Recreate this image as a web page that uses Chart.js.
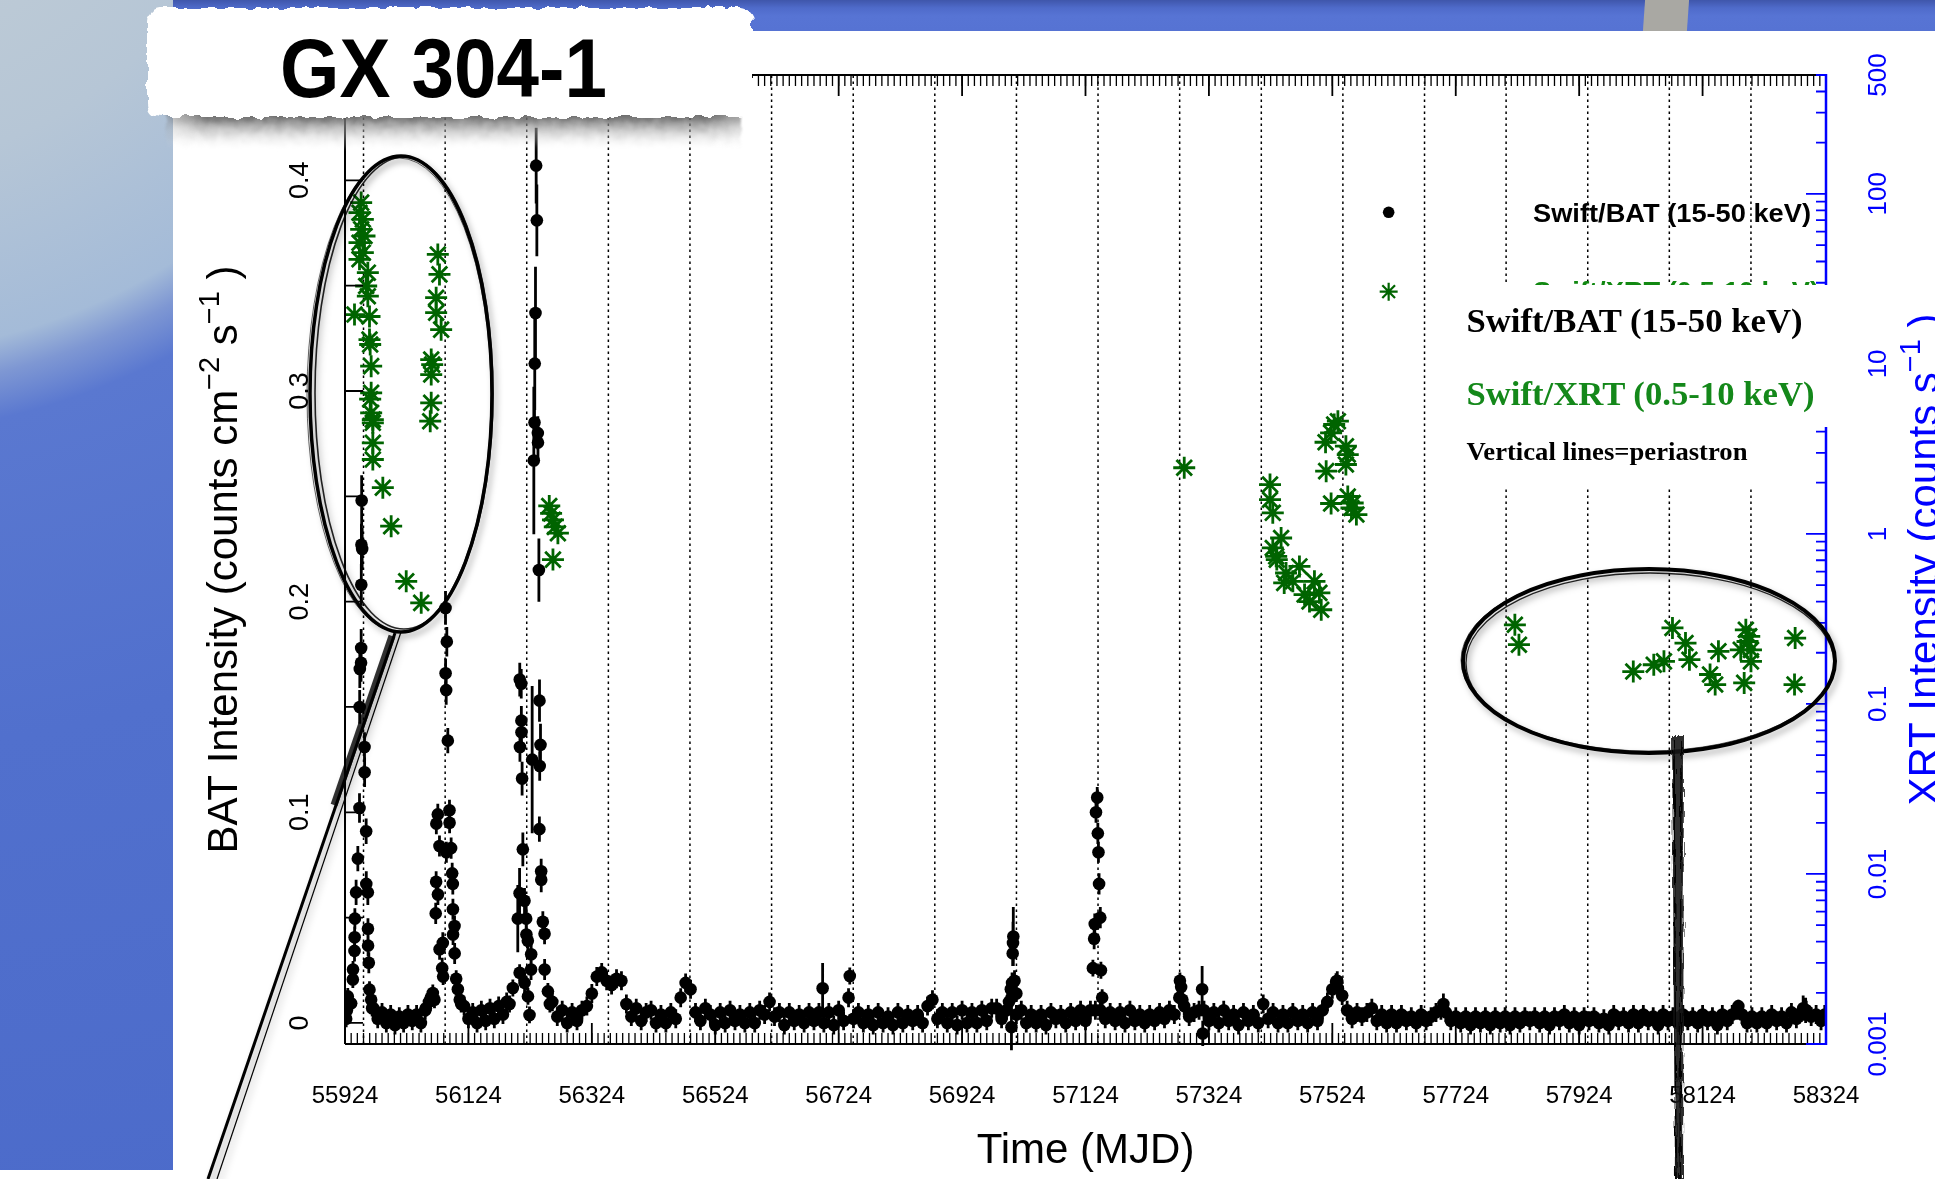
<!DOCTYPE html>
<html>
<head>
<meta charset="utf-8">
<title>GX 304-1</title>
<script src="https://cdn.jsdelivr.net/npm/chart.js@4.4.1/dist/chart.umd.min.js"></script>
<style>
  html, body { margin:0; padding:0; width:1935px; height:1179px; overflow:hidden; background:#fff; }
  #leftPanel { position:absolute; left:0; top:0; width:173px; height:1170px; z-index:0;
    background: radial-gradient(circle at -150px -250px, #c8d1d6 0px, #b6c6d6 420px, #a4bbd8 605px, #7e97d3 640px, #5a78d0 685px, #5170cd 1000px, #4c6bca 1500px); }
  #topBand { position:absolute; left:173px; top:0; width:1762px; height:31px; z-index:0;
    background: linear-gradient(to bottom, #3f56ab 0px, #4f6bca 8px, #5774d4 16px, #5673d3 31px); }
  #stripe { position:absolute; left:1644px; top:0; width:44px; height:31px; z-index:0; background:#a9a8a3; transform: skewX(-4deg); }
  #chartBox { position:absolute; left:0; top:0; width:1935px; height:1179px; z-index:1; }
  #overlay { position:absolute; left:0; top:0; z-index:2; pointer-events:none; }
</style>
</head>
<body>
<div id="leftPanel"></div>
<div id="topBand"></div>
<div id="stripe"></div>
<div id="chartBox"><canvas id="c" width="1935" height="1179" style="width:1935px;height:1179px"></canvas></div>

<svg id="overlay" width="1935" height="1179" viewBox="0 0 1935 1179" xmlns="http://www.w3.org/2000/svg">
  <defs>
    <filter id="rough" x="-3%" y="-10%" width="106%" height="120%">
      <feTurbulence type="fractalNoise" baseFrequency="0.09" numOctaves="2" seed="7" result="noise"/>
      <feDisplacementMap in="SourceGraphic" in2="noise" scale="8" xChannelSelector="R" yChannelSelector="G"/>
    </filter>
    <filter id="softRough" x="-5%" y="-30%" width="110%" height="160%">
      <feTurbulence type="fractalNoise" baseFrequency="0.12" numOctaves="2" seed="3" result="noise"/>
      <feDisplacementMap in="SourceGraphic" in2="noise" scale="6" xChannelSelector="R" yChannelSelector="G" result="d"/>
      <feGaussianBlur in="d" stdDeviation="1.2"/>
    </filter>
    <linearGradient id="shadowGrad" x1="0" y1="0" x2="0" y2="1">
      <stop offset="0" stop-color="#3c3c3c" stop-opacity="1"/>
      <stop offset="0.3" stop-color="#6a6a6a" stop-opacity="0.85"/>
      <stop offset="0.65" stop-color="#b4b4b4" stop-opacity="0.45"/>
      <stop offset="1" stop-color="#ffffff" stop-opacity="0"/>
    </linearGradient>
    <linearGradient id="shadowFade" x1="0" y1="0" x2="1" y2="0">
      <stop offset="0" stop-color="#fff" stop-opacity="0.25"/>
      <stop offset="0.08" stop-color="#fff" stop-opacity="1"/>
      <stop offset="0.93" stop-color="#fff" stop-opacity="1"/>
      <stop offset="1" stop-color="#fff" stop-opacity="0.5"/>
    </linearGradient>
    <mask id="shadowMask"><rect x="160" y="100" width="590" height="60" fill="url(#shadowFade)"/></mask>
    <filter id="drop" x="-20%" y="-10%" width="140%" height="130%">
      <feDropShadow dx="3" dy="4" stdDeviation="3" flood-color="#000" flood-opacity="0.3"/>
    </filter>
    <filter id="scribble" x="-50%" y="-5%" width="200%" height="110%">
      <feTurbulence type="fractalNoise" baseFrequency="0.6 0.05" numOctaves="2" seed="11" result="n"/>
      <feDisplacementMap in="SourceGraphic" in2="n" scale="5" xChannelSelector="R" yChannelSelector="G"/>
    </filter>
  </defs>
  <!-- slide title label -->
  <g mask="url(#shadowMask)">
    <rect x="166" y="106" width="575" height="44" fill="url(#shadowGrad)" filter="url(#softRough)"/>
  </g>
  <rect x="147" y="8" width="606" height="109" rx="14" fill="#ffffff" filter="url(#rough)"/>
  <text x="443.5" y="96.5" text-anchor="middle" font-family="Liberation Sans, Arial, sans-serif" font-weight="bold" font-size="84" textLength="327" lengthAdjust="spacingAndGlyphs" fill="#000">GX 304-1</text>
  <!-- pasted legend box -->
  <rect x="1454" y="285" width="374" height="142" fill="#ffffff"/>
  <rect x="1454" y="426" width="362" height="62" fill="#ffffff"/>
  <text x="1466.5" y="331.7" font-family="Liberation Serif, Times New Roman, serif" font-weight="bold" font-size="34.5" textLength="336" lengthAdjust="spacingAndGlyphs" fill="#000">Swift/BAT (15-50 keV)</text>
  <text x="1466.5" y="405" font-family="Liberation Serif, Times New Roman, serif" font-weight="bold" font-size="34.5" textLength="348" lengthAdjust="spacingAndGlyphs" fill="#14881a">Swift/XRT (0.5-10 keV)</text>
  <text x="1466.5" y="460" font-family="Liberation Serif, Times New Roman, serif" font-weight="bold" font-size="26" textLength="281" lengthAdjust="spacingAndGlyphs" fill="#000">Vertical lines=periastron</text>
  <!-- magnifier call-outs -->
  <g fill="none" stroke="#000" filter="url(#drop)">
    <ellipse cx="401" cy="394" rx="91" ry="238" stroke-width="3.5"/>
    <ellipse cx="404" cy="393" rx="89" ry="236" stroke-width="1.6" opacity="0.85"/>
    <ellipse cx="399" cy="395" rx="92" ry="237" stroke-width="1" opacity="0.6"/>
    <path d="M395 633 L208 1179" stroke-width="3"/>
    <path d="M392 636 L334 805" stroke-width="7" opacity="0.8"/>
    <path d="M401 632 L217 1179" stroke-width="1.2"/>
    <ellipse cx="1649" cy="661" rx="186" ry="92" stroke-width="4"/>
    <ellipse cx="1650" cy="663" rx="184" ry="90" stroke-width="1.3" opacity="0.85"/>
    <ellipse cx="1648" cy="660" rx="187" ry="91" stroke-width="1" opacity="0.6"/>
  </g>
  <g filter="url(#scribble)">
    <path d="M1672 736 L1684 736 L1683 1179 L1675 1179 Z" fill="#1a1a1a" opacity="0.9"/>
    <path d="M1674 740 L1676 1179" stroke="#000" stroke-width="1.5" fill="none"/>
    <path d="M1681 740 L1680 1179" stroke="#000" stroke-width="1.5" fill="none"/>
  </g>
</svg>

<script>
// ------------------------------------------------------------------
// Axis definitions
const xTickValues = [55924, 56124, 56324, 56524, 56724, 56924, 57124, 57324, 57524, 57724, 57924, 58124, 58324];
const xTickLabels = ['55924', '56124', '56324', '56524', '56724', '56924', '57124', '57324', '57524', '57724', '57924', '58124', '58324'];
const batTickValues = [0, 0.1, 0.2, 0.3, 0.4];
const batTickLabels = ['0', '0.1', '0.2', '0.3', '0.4'];
const xrtTickValues = [0.001, 0.01, 0.1, 1, 10, 100, 500];
const xrtTickLabels = ['0.001', '0.01', '0.1', '1', '10', '100', '500'];

// Periastron passages (MJD)
const periastronMJD = [55954.0, 56086.3, 56218.5, 56350.8, 56483.0, 56615.3, 56747.6, 56879.8, 57012.1,
  57144.3, 57276.6, 57408.9, 57541.1, 57673.4, 57805.6, 57937.9, 58070.1, 58202.4];

// Swift/BAT quiescent light curve (counts cm^-2 s^-1)
const quietMJD = [
  55970, 55977, 55984, 55991, 55998, 56005, 56012, 56019, 56026, 56033,
  56040, 56047, 56054, 56117, 56124, 56131, 56138, 56145, 56152, 56159,
  56166, 56173, 56180, 56186,
  56260, 56268, 56276, 56284, 56292, 56300, 56308, 56316, 56324, 56332,
  56340, 56348, 56356, 56364, 56372, 56380, 56388, 56396, 56404, 56412,
  56420, 56428, 56436, 56444, 56452, 56460, 56468, 56476, 56484, 56492,
  56500, 56508, 56516, 56524, 56532, 56540, 56548, 56556, 56564, 56572,
  56580, 56588, 56596, 56604, 56612, 56620, 56628, 56636, 56644, 56652,
  56660, 56668, 56676, 56684, 56692, 56700, 56708, 56716, 56724, 56732,
  56740, 56748, 56756, 56764, 56772, 56780, 56788, 56796, 56804, 56812,
  56820, 56828, 56836, 56844, 56852, 56860, 56868, 56876, 56884, 56892,
  56900, 56908, 56916, 56924, 56932, 56940, 56948, 56956, 56964, 56972,
  56980, 56988, 56996, 57004, 57012, 57020, 57028, 57036, 57044, 57052,
  57060, 57068, 57076, 57084, 57092, 57100, 57108, 57116, 57124, 57132,
  57140, 57148, 57156, 57164, 57172, 57180, 57188, 57196, 57204, 57212,
  57220, 57228, 57236, 57244, 57252, 57260, 57268, 57276, 57284, 57292,
  57300, 57308, 57316, 57324, 57332, 57340, 57348, 57356, 57364, 57372,
  57380, 57388, 57396, 57404, 57412, 57420, 57428, 57436, 57444, 57452,
  57460, 57468, 57476, 57484, 57492, 57500, 57508, 57516, 57524, 57532,
  57540, 57548, 57556, 57564, 57572, 57580, 57588, 57596, 57604, 57612,
  57620, 57628, 57636, 57644, 57652, 57660, 57668, 57676, 57684, 57692,
  57700, 57708, 57716, 57724, 57732, 57740, 57748, 57756, 57764, 57772,
  57780, 57788, 57796, 57804, 57812, 57820, 57828, 57836, 57844, 57852,
  57860, 57868, 57876, 57884, 57892, 57900, 57908, 57916, 57924, 57932,
  57940, 57948, 57956, 57964, 57972, 57980, 57988, 57996, 58004, 58012,
  58020, 58028, 58036, 58044, 58052, 58060, 58068, 58076, 58084, 58092,
  58100, 58108, 58116, 58124, 58132, 58140, 58148, 58156, 58164, 58172,
  58180, 58188, 58196, 58204, 58212, 58220, 58228, 58236, 58244, 58252,
  58260, 58268, 58276, 58284, 58292, 58300, 58308, 58316, 58322];
const quietRate = [
  0.007, 0.002, 0.005, 0.000, 0.004, -0.001, 0.003, 0.000, 0.004, 0.001,
  0.004, 0.000, 0.006, 0.008, 0.002, 0.005, 0.000, 0.006, 0.001, 0.007,
  0.002, 0.008, 0.004, 0.010,
  0.010, 0.003, 0.006, 0.000, 0.005, 0.001, 0.006, 0.008, 0.014, 0.022,
  0.024, 0.020, 0.018, 0.021, 0.020, 0.009, 0.003, 0.007, 0.001, 0.005,
  0.006, 0.000, 0.004, 0.000, 0.005, 0.002, 0.012, 0.019, 0.016, 0.005,
  0.001, 0.007, 0.004, -0.001, 0.005, 0.000, 0.006, 0.001, 0.004, 0.000,
  0.005, 0.000, 0.006, 0.004, 0.010, 0.003, 0.005, -0.001, 0.005, 0.001,
  0.004, 0.000, 0.005, 0.001, 0.005, 0.000, 0.005, -0.001, 0.006, 0.001,
  0.012, 0.002, 0.005, 0.000, 0.004, -0.001, 0.005, 0.000, 0.003, -0.001,
  0.005, 0.000, 0.004, 0.001, 0.004, 0.000, 0.008, 0.011, 0.002, 0.005,
  0.000, 0.005, -0.001, 0.006, 0.000, 0.005, 0.000, 0.006, 0.001, 0.007,
  0.007, 0.002, 0.006, 0.012, 0.004, 0.006, 0.000, 0.004, 0.000, 0.004,
  -0.001, 0.005, 0.002, 0.004, 0.000, 0.005, 0.001, 0.006, 0.001, 0.006,
  0.006, 0.006, 0.002, 0.005, 0.001, 0.005, 0.000, 0.006, 0.001, 0.004,
  0.000, 0.004, 0.001, 0.005, 0.002, 0.006, 0.004, 0.012, 0.008, 0.003,
  0.005, 0.006, 0.006, 0.001, 0.005, 0.000, 0.006, 0.001, 0.004, -0.001,
  0.005, 0.001, 0.004, 0.000, 0.009, 0.002, 0.005, 0.000, 0.004, 0.000,
  0.005, 0.001, 0.004, 0.000, 0.005, 0.001, 0.006, 0.010, 0.016, 0.020,
  0.013, 0.006, 0.002, 0.005, 0.003, 0.005, 0.007, 0.001, 0.004, 0.000,
  0.004, 0.000, 0.004, 0.001, 0.003, 0.000, 0.004, 0.001, 0.003, 0.005,
  0.006, 0.005, 0.001, 0.003, 0.000, 0.003, -0.001, 0.003, 0.000, 0.003,
  -0.001, 0.003, 0.000, 0.003, -0.001, 0.003, 0.000, 0.003, 0.001, 0.003,
  0.000, 0.003, -0.001, 0.003, 0.001, 0.004, 0.000, 0.003, -0.001, 0.003,
  0.001, 0.003, 0.000, 0.002, -0.001, 0.004, 0.001, 0.003, 0.000, 0.004,
  0.000, 0.004, 0.001, 0.003, -0.001, 0.004, 0.001, 0.003, 0.000, 0.004,
  0.001, 0.003, 0.000, 0.004, 0.001, 0.003, -0.001, 0.004, 0.001, 0.004,
  0.006, 0.004, 0.000, 0.003, 0.000, 0.003, 0.000, 0.004, 0.001, 0.003,
  0.000, 0.005, 0.002, 0.005, 0.006, 0.003, 0.004, 0.001, 0.004];
const quietErr = 0.0045;   // typical 1-sigma of a quiescent daily BAT point

// Swift/BAT outbursts
const burst1MJD = [55925.9, 55927, 55928.5, 55934, 55936.7, 55937, 55939.4, 55939.6, 55940, 55942,
  55944.8, 55947.5, 55947.8, 55948, 55950, 55950.2, 55950.4, 55950.6, 55951, 55951.8,
  55955.6, 55955.8, 55958.3, 55958.5, 55961, 55961.2, 55961.4, 55962.6, 55963.7, 55966.4, 55968];
const burst1Rate = [0.002, 0.006, 0.0126, 0.0093, 0.0206, 0.0254, 0.0342, 0.0407, 0.0495, 0.062,
  0.078, 0.102, 0.150, 0.168, 0.171, 0.178, 0.208, 0.227, 0.248, 0.225,
  0.131, 0.119, 0.091, 0.066, 0.062, 0.0447, 0.0367, 0.0286, 0.0158, 0.011, 0.007];
const burst1Err = [0.004, 0.004, 0.004, 0.004, 0.004, 0.004, 0.005, 0.005, 0.005, 0.006,
  0.006, 0.007, 0.008, 0.009, 0.009, 0.009, 0.010, 0.010, 0.012, 0.010,
  0.007, 0.007, 0.006, 0.006, 0.006, 0.005, 0.005, 0.005, 0.004, 0.004, 0.004];

const burst2MJD = [56055, 56060, 56063, 56066.3, 56069, 56071, 56071.7, 56072, 56074.4, 56074.6,
  56077.1, 56077.3, 56081.5, 56082.5, 56083, 56086.9, 56087, 56088, 56088.3, 56089,
  56090.6, 56093.3, 56093.5, 56096, 56097.7, 56098.7, 56098.9, 56099.1, 56101.5, 56101.7,
  56104.2, 56106.9, 56110, 56112.3];
const burst2Rate = [0.007, 0.010, 0.012, 0.0142, 0.011, 0.052, 0.067, 0.0946, 0.099, 0.061,
  0.084, 0.035, 0.026, 0.038, 0.022, 0.197, 0.166, 0.158, 0.081, 0.181,
  0.134, 0.101, 0.095, 0.083, 0.071, 0.066, 0.054, 0.042, 0.046, 0.033,
  0.021, 0.016, 0.011, 0.009];
const burst2Err = [0.004, 0.004, 0.004, 0.004, 0.004, 0.005, 0.005, 0.005, 0.005, 0.005,
  0.005, 0.005, 0.005, 0.005, 0.004, 0.008, 0.007, 0.007, 0.005, 0.007,
  0.006, 0.005, 0.005, 0.005, 0.005, 0.005, 0.005, 0.005, 0.005, 0.005,
  0.004, 0.004, 0.004, 0.004];

const burst3MJD = [56190.6, 56196, 56204, 56206.9, 56207, 56207.2, 56207.5, 56209.6, 56209.8, 56210,
  56211, 56212.2, 56214.9, 56215, 56217.6, 56218, 56220.3, 56220.5, 56223, 56225.5,
  56225.7, 56227.3, 56230, 56231.1, 56231.5, 56232.7, 56233.8, 56234.9, 56236.5, 56236.7,
  56238.2, 56239, 56239.2, 56239.5, 56240.8, 56241.9, 56242, 56244.6, 56247.4, 56247.5,
  56252.8, 56256];
const burst3Rate = [0.009, 0.0166, 0.0495, 0.0616, 0.0238, 0.163, 0.131, 0.161, 0.1435, 0.138,
  0.116, 0.0824, 0.058, 0.019, 0.0495, 0.042, 0.039, 0.0126, 0.0038, 0.0254,
  0.0326, 0.125, 0.267, 0.285, 0.313, 0.337, 0.407, 0.381, 0.280, 0.2755,
  0.215, 0.092, 0.153, 0.122, 0.132, 0.072, 0.068, 0.048, 0.0423, 0.0254,
  0.015, 0.009];
const burst3Err = [0.004, 0.004, 0.016, 0.012, 0.004, 0.008, 0.007, 0.007, 0.007, 0.007,
  0.008, 0.008, 0.006, 0.005, 0.006, 0.005, 0.005, 0.004, 0.004, 0.005,
  0.005, 0.035, 0.035, 0.010, 0.022, 0.022, 0.018, 0.017, 0.008, 0.008,
  0.015, 0.006, 0.010, 0.007, 0.010, 0.006, 0.006, 0.005, 0.005, 0.005,
  0.004, 0.004];

const burst4MJD = [57000, 57003, 57005, 57006, 57006.5, 57007, 57009, 57012];
const burst4Rate = [0.010, 0.016, 0.019, 0.033, 0.038, 0.041, 0.020, 0.014];
const burst4Err = [0.004, 0.005, 0.005, 0.006, 0.010, 0.014, 0.005, 0.004];

const burst5MJD = [57136, 57138, 57139, 57141, 57143, 57144, 57145, 57146, 57148, 57149, 57151];
const burst5Rate = [0.026, 0.040, 0.047, 0.100, 0.107, 0.090, 0.081, 0.066, 0.050, 0.025, 0.012];
const burst5Err = [0.004, 0.005, 0.005, 0.005, 0.005, 0.005, 0.005, 0.005, 0.005, 0.004, 0.004];

const spikeMJD = [56698, 56742, 57004, 57277, 57279, 57281, 57313, 57314, 57530, 57533, 57704, 58182, 58287, 58291];
const spikeRate = [0.0165, 0.0223, -0.002, 0.020, 0.017, 0.011, 0.016, -0.005, 0.0196, 0.0165, 0.009, 0.008, 0.007, 0.006];
const spikeErr = [0.012, 0.004, 0.011, 0.004, 0.004, 0.004, 0.011, 0.006, 0.004, 0.004, 0.005, 0.003, 0.006, 0.006];

// Swift/XRT (counts s^-1)
const xrtMJD = [
  55950.2, 55947.5, 55952.9, 55950.2, 55955.6, 55947.5, 55952.9, 55947.5, 55961.0, 55958.3,
  55961.0, 55939.4, 55963.7, 55963.7, 55964.8, 55966.4, 55966.4, 55964.8, 55966.4, 55969.1,
  55969.1, 55969.1, 55969.1, 55985.3, 55998.8, 56023.2, 56047.5,
  56074.4, 56077.1, 56071.7, 56071.7, 56079.8, 56063.7, 56065.3, 56063.7, 56063.7, 56062.1,
  56255, 56258, 56261, 56264, 56269, 56261,
  57284,
  57423, 57423, 57427.5, 57441, 57427.5, 57433, 57434, 57449, 57470.7, 57446,
  57460, 57495, 57479, 57503, 57487, 57506,
  57527, 57533, 57522, 57513, 57546, 57549, 57546, 57514, 57522, 57549,
  57557, 57555, 57563,
  57819.8, 57826.4, 58011.7, 58044.9, 58061.4, 58075.2, 58096.3, 58102.7, 58136.1, 58144.4,
  58149.7, 58191.4, 58194.1, 58185.9, 58196.8, 58202.4, 58202.4, 58199.6, 58274, 58273];
const xrtRate = [
  88.8, 77.5, 70.7, 61.8, 56.5, 51.6, 45.1, 41.2, 34.4, 28.7,
  25.0, 19.5, 19.0, 13.9, 13.0, 9.7, 6.76, 6.2, 5.15, 4.7,
  4.5, 3.43, 2.74, 1.87, 1.11, 0.526, 0.393,
  44, 33.6, 24.5, 20, 15.9, 10.6, 9.9, 8.65, 5.9, 4.6,
  1.46, 1.32, 1.21, 1.10, 1.01, 0.706,
  2.45,
  1.95, 1.59, 1.33, 0.946, 0.827, 0.738, 0.706, 0.589, 0.644, 0.515,
  0.526, 0.526, 0.44, 0.45, 0.40, 0.358,
  4.40, 4.6, 3.93, 3.46, 3.28, 2.93, 2.56, 2.34, 1.51, 1.66,
  1.52, 1.42, 1.30,
  0.292, 0.223, 0.155, 0.170, 0.178, 0.280, 0.228, 0.182, 0.149, 0.130,
  0.204, 0.133, 0.273, 0.208, 0.233, 0.208, 0.178, 0.250, 0.244, 0.130];

const legendLabels = ['Swift/BAT (15-50 keV)', 'Swift/XRT (0.5-10 keV)'];
// ------------------------------------------------------------------

const X_MIN = 55924, X_MAX = 58324;
const BAT_MIN = -0.01, BAT_MAX = 0.45;
const XRT_MIN = 0.001, XRT_MAX = 500;
const XRT_GREEN = '#006400';
const SANS = '"Liberation Sans", Arial, Helvetica, sans-serif';
const BAT_R = 6.3;

function pts(xs, ys) { return xs.map((v, i) => ({ x: v, y: ys[i] })); }

function batSet(label, xs, ys, errs, errConst) {
  return {
    label, data: pts(xs, ys), errors: errs, errConst: errConst,
    yAxisID: 'y', order: 1, showLine: false,
    pointStyle: 'circle', pointRadius: BAT_R, pointHoverRadius: BAT_R,
    backgroundColor: '#000', borderColor: '#000', borderWidth: 0
  };
}

const datasets = [
  {
    label: legendLabels[1], data: pts(xrtMJD, xrtRate), yAxisID: 'y2', order: 0, showLine: false,
    pointStyle: 'star', pointRadius: 11, pointHoverRadius: 11,
    borderColor: XRT_GREEN, backgroundColor: XRT_GREEN, borderWidth: 2.8
  },
  batSet(legendLabels[0], quietMJD, quietRate, null, quietErr),
  batSet('BAT outburst 1', burst1MJD, burst1Rate, burst1Err),
  batSet('BAT outburst 2', burst2MJD, burst2Rate, burst2Err),
  batSet('BAT outburst 3', burst3MJD, burst3Rate, burst3Err),
  batSet('BAT outburst 4', burst4MJD, burst4Rate, burst4Err),
  batSet('BAT outburst 5', burst5MJD, burst5Rate, burst5Err),
  batSet('BAT flares', spikeMJD, spikeRate, spikeErr)
];
periastronMJD.forEach((p, i) => {
  datasets.push({
    label: 'periastron ' + (i + 1), type: 'line', showLine: true,
    data: [{ x: p, y: BAT_MIN }, { x: p, y: BAT_MAX }], yAxisID: 'y', order: 2,
    borderColor: '#000', borderWidth: 1.5, borderDash: [2.5, 3.5], pointRadius: 0, fill: false
  });
});

// error bars (drawn just before each BAT dataset's points)
const errorBars = {
  id: 'errorBars',
  beforeDatasetDraw(chart, args) {
    const ds = chart.data.datasets[args.index];
    if (!ds.errors && !ds.errConst) return;
    const { ctx } = chart; const xs = chart.scales.x, ys = chart.scales.y;
    ctx.save();
    ctx.strokeStyle = '#000'; ctx.lineWidth = 2.8;
    ctx.beginPath();
    ds.data.forEach((p, i) => {
      const e = ds.errors ? ds.errors[i] : ds.errConst;
      const px = xs.getPixelForValue(p.x);
      ctx.moveTo(px, ys.getPixelForValue(p.y - e));
      ctx.lineTo(px, ys.getPixelForValue(p.y + e));
    });
    ctx.stroke();
    ctx.restore();
  }
};

function rotatedRich(ctx, parts, bx, cy, size, color) {
  ctx.save();
  ctx.translate(bx, cy); ctx.rotate(-Math.PI / 2);
  ctx.fillStyle = color; ctx.textAlign = 'left'; ctx.textBaseline = 'alphabetic';
  const fN = size + 'px ' + SANS, fS = Math.round(size * 0.7) + 'px ' + SANS;
  let total = 0;
  parts.forEach(p => { ctx.font = p.sup ? fS : fN; p.w = ctx.measureText(p.t).width; total += p.w; });
  let xp = -total / 2;
  parts.forEach(p => { ctx.font = p.sup ? fS : fN; ctx.fillText(p.t, xp, p.sup ? -size * 0.42 : 0); xp += p.w; });
  ctx.restore();
}

function rotatedLabel(ctx, text, bx, cy) {
  ctx.save(); ctx.translate(bx, cy); ctx.rotate(-Math.PI / 2);
  ctx.textAlign = 'center'; ctx.textBaseline = 'alphabetic';
  ctx.fillText(text, 0, 0); ctx.restore();
}

const axesPlugin = {
  id: 'axesPlugin',
  afterDatasetsDraw(chart) {
    const { ctx, chartArea: a } = chart; const x = chart.scales.x, y = chart.scales.y, y2 = chart.scales.y2;
    ctx.save();
    // frame (left, top, bottom)
    ctx.strokeStyle = '#000'; ctx.lineWidth = 2;
    ctx.beginPath();
    ctx.moveTo(a.left, a.bottom); ctx.lineTo(a.left, a.top); ctx.lineTo(a.right, a.top);
    ctx.moveTo(a.left, a.bottom); ctx.lineTo(a.right, a.bottom);
    ctx.stroke();
    // time minor ticks (10 d) and major ticks
    ctx.lineWidth = 1.3; ctx.beginPath();
    for (let v = X_MIN; v <= X_MAX; v += 10) {
      const px = x.getPixelForValue(v);
      ctx.moveTo(px, a.top); ctx.lineTo(px, a.top + 11);
      ctx.moveTo(px, a.bottom); ctx.lineTo(px, a.bottom - 11);
    }
    ctx.stroke();
    ctx.lineWidth = 1.8; ctx.beginPath();
    xTickValues.forEach(v => {
      const px = x.getPixelForValue(v);
      ctx.moveTo(px, a.top); ctx.lineTo(px, a.top + 21);
      ctx.moveTo(px, a.bottom); ctx.lineTo(px, a.bottom - 21);
    });
    ctx.stroke();
    // BAT axis ticks every 0.05
    ctx.lineWidth = 1.8; ctx.beginPath();
    for (let k = 0; k <= 8; k++) {
      const py = y.getPixelForValue(k * 0.05);
      ctx.moveTo(a.left, py); ctx.lineTo(a.left + 18, py);
    }
    ctx.stroke();
    // XRT axis (blue, log)
    ctx.strokeStyle = '#0000ff'; ctx.lineWidth = 2.5;
    ctx.beginPath(); ctx.moveTo(a.right, a.top - 1); ctx.lineTo(a.right, a.bottom + 1); ctx.stroke();
    ctx.lineWidth = 1.8; ctx.beginPath();
    for (let d = -3; d <= 2; d++) {
      for (let m = 1; m <= 9; m++) {
        const v = m * Math.pow(10, d);
        if (v > XRT_MAX * 1.0001) break;
        const py = y2.getPixelForValue(v);
        const len = m === 1 ? 20 : 10;
        ctx.moveTo(a.right, py); ctx.lineTo(a.right - len, py);
      }
    }
    ctx.stroke();
    ctx.restore();
  },
  afterDraw(chart) {
    const { ctx, chartArea: a } = chart; const x = chart.scales.x, y = chart.scales.y, y2 = chart.scales.y2;
    ctx.save();
    // x tick labels
    ctx.fillStyle = '#000'; ctx.font = '24px ' + SANS; ctx.textAlign = 'center'; ctx.textBaseline = 'alphabetic';
    xTickValues.forEach((v, i) => ctx.fillText(xTickLabels[i], x.getPixelForValue(v), 1103));
    // x title
    ctx.font = '42px ' + SANS;
    ctx.fillText('Time (MJD)', (a.left + a.right) / 2, 1163);
    // BAT tick labels
    ctx.font = '27px ' + SANS; ctx.fillStyle = '#000';
    batTickValues.forEach((v, i) => rotatedLabel(ctx, batTickLabels[i], 308, y.getPixelForValue(v)));
    // XRT tick labels
    ctx.fillStyle = '#0000ff'; ctx.font = '26px ' + SANS;
    xrtTickValues.forEach((v, i) => rotatedLabel(ctx, xrtTickLabels[i], 1886, y2.getPixelForValue(v)));
    // axis titles
    const cy = (a.top + a.bottom) / 2;
    rotatedRich(ctx, [{ t: 'BAT Intensity (counts cm' }, { t: '\u22122', sup: true }, { t: ' s' }, { t: '\u22121', sup: true }, { t: ' )' }], 237, cy, 42, '#000');
    rotatedRich(ctx, [{ t: 'XRT Intensity (counts s' }, { t: '\u22121', sup: true }, { t: ' )' }], 1938, cy, 42, '#0000ff');
    // in-plot legend
    const lx = a.left + (a.right - a.left) * 0.7047;
    ctx.fillStyle = '#000';
    ctx.beginPath(); ctx.arc(lx, 212.3, 5.8, 0, Math.PI * 2); ctx.fill();
    ctx.strokeStyle = XRT_GREEN; ctx.lineWidth = 2.2;
    const sy = 291.7, r = 9;
    ctx.beginPath();
    ctx.moveTo(lx - r, sy); ctx.lineTo(lx + r, sy); ctx.moveTo(lx, sy - r); ctx.lineTo(lx, sy + r);
    const d = r * Math.SQRT1_2;
    ctx.moveTo(lx - d, sy - d); ctx.lineTo(lx + d, sy + d); ctx.moveTo(lx - d, sy + d); ctx.lineTo(lx + d, sy - d);
    ctx.stroke();
    ctx.font = 'bold 26px ' + SANS; ctx.textAlign = 'left';
    const w0 = ctx.measureText(legendLabels[0]).width, sc = 278 / w0;
    ctx.save(); ctx.translate(1533, 221.7); ctx.scale(sc, 1); ctx.fillStyle = '#000'; ctx.fillText(legendLabels[0], 0, 0); ctx.restore();
    ctx.save(); ctx.translate(1533, 300); ctx.scale(sc, 1); ctx.fillStyle = '#118811'; ctx.fillText(legendLabels[1], 0, 0); ctx.restore();
    ctx.restore();
  }
};

new Chart(document.getElementById('c'), {
  type: 'scatter',
  data: { datasets },
  options: {
    responsive: false, animation: false, devicePixelRatio: 1,
    layout: { padding: { left: 345, right: 109, top: 75, bottom: 135 } },
    scales: {
      x: { type: 'linear', min: X_MIN, max: X_MAX, display: false },
      y: { type: 'linear', min: BAT_MIN, max: BAT_MAX, display: false },
      y2: { type: 'logarithmic', min: XRT_MIN, max: XRT_MAX, display: false, position: 'right' }
    },
    plugins: { legend: { display: false }, tooltip: { enabled: false } },
    events: []
  },
  plugins: [errorBars, axesPlugin]
});
</script>
</body>
</html>
